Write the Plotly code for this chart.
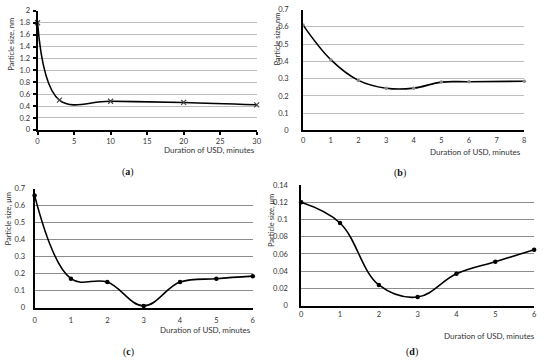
import plotly.graph_objects as go

W, H = 550, 364

# ---- data ----
a_x = [0, 3, 10, 20, 30]
a_y = [1.8, 0.5, 0.48, 0.46, 0.42]
b_x = [0, 1, 2, 3, 4, 5, 6, 8]
b_y = [0.61, 0.41, 0.29, 0.245, 0.245, 0.28, 0.282, 0.285]
c_x = [0, 1, 2, 3, 4, 5, 6]
c_y = [0.66, 0.17, 0.15, 0.01, 0.15, 0.17, 0.185]
d_x = [0, 1, 2, 3, 4, 5, 6]
d_y = [0.12, 0.096, 0.024, 0.01, 0.037, 0.051, 0.065]

a_yticks = [0, 0.2, 0.4, 0.6, 0.8, 1.0, 1.2, 1.4, 1.6, 1.8, 2]
a_ylabels = ["0", "0.2", "0.4", "0.6", "0.8", "1.0", "1.2", "1.4", "1.6", "1.8", "2"]
a_xticks = [0, 5, 10, 15, 20, 25, 30]
b_yticks = [0, 0.1, 0.2, 0.3, 0.4, 0.5, 0.6, 0.7]
b_xticks = [0, 1, 2, 3, 4, 5, 6, 7, 8]
c_yticks = [0, 0.1, 0.2, 0.3, 0.4, 0.5, 0.6, 0.7]
c_xticks = [0, 1, 2, 3, 4, 5, 6]
d_yticks = [0, 0.02, 0.04, 0.06, 0.08, 0.1, 0.12, 0.14]
d_xticks = [0, 1, 2, 3, 4, 5, 6]

xtitle = "Duration of USD, minutes"
FONT = "Lato"


def px(x):
    return x / W


def py(y):
    return 1 - y / H


fig = go.Figure()

panels = [
    dict(x=a_x, y=a_y, xd=(36, 258), yd=(7, 129), xr=[0, 30], yr=[0, 2],
         yt=a_yticks, yl=a_ylabels, xt=a_xticks,
         marker=dict(symbol="x-thin", size=5, color="#444", line=dict(width=1.2, color="#444")),
         ylab="Particle size, nm", ylabpos=(10, 41), xlabpos=(258, 150), tag="a", tagpos=(128, 172),
         grid="#bdbdbd", axw=2, xstand=0, ystand=1),
    dict(x=b_x, y=b_y, xd=(305, 529), yd=(5.7, 129.7), xr=[0, 8], yr=[0, 0.7],
         yt=b_yticks, yl=[str(v) for v in b_yticks], xt=b_xticks,
         marker=dict(symbol="circle", size=3.5, color="#888"),
         ylab="Particle size, nm", ylabpos=(279, 36), xlabpos=(528, 152), tag="b", tagpos=(403, 173),
         grid="#bdbdbd", axw=2, xstand=2, ystand=11),
    dict(x=c_x, y=c_y, xd=(33, 254), yd=(189.3, 311.3), xr=[0, 6], yr=[0, 0.7],
         yt=c_yticks, yl=[str(v) for v in c_yticks], xt=c_xticks,
         marker=dict(symbol="circle", size=4.5, color="#000"),
         ylab="Particle size, μm", ylabpos=(7, 220), xlabpos=(254, 334), tag="c", tagpos=(128, 357),
         grid="#8c8c8c", axw=2, xstand=4, ystand=6),
    dict(x=d_x, y=d_y, xd=(303, 539), yd=(185.7, 309.3), xr=[0, 6], yr=[0, 0.14],
         yt=d_yticks, yl=[str(v) for v in d_yticks], xt=d_xticks,
         marker=dict(symbol="circle", size=4.5, color="#000"),
         ylab="Particle size, μm", ylabpos=(273, 222), xlabpos=(542, 340), tag="d", tagpos=(415, 357),
         grid="#8c8c8c", axw=1.5, xstand=1, ystand=10),
]

annotations = []
for i, p in enumerate(panels):
    n = "" if i == 0 else str(i + 1)
    xa = "x" + n
    ya = "y" + n
    fig.add_trace(go.Scatter(
        x=p["x"], y=p["y"], mode="lines+markers",
        line=dict(color="black", width=1.6, shape="spline", smoothing=1.1),
        marker=p["marker"], xaxis=xa, yaxis=ya, showlegend=False,
        cliponaxis=False,
    ))
    fig.layout["xaxis" + n] = dict(
        domain=[px(p["xd"][0]), px(p["xd"][1])], range=p["xr"], anchor=ya,
        tickmode="array", tickvals=p["xt"], ticks="outside" if i == 0 else "",
        ticklen=3, tickcolor="black", tickwidth=1.5,
        showgrid=False, zeroline=False, showline=True, linecolor="black", linewidth=p["axw"],
        tickfont=dict(family=FONT, size=7.5, color="#333"), ticklabelstandoff=p["xstand"],
        fixedrange=True,
    )
    fig.layout["yaxis" + n] = dict(
        domain=[py(p["yd"][1]), py(p["yd"][0])], range=p["yr"], anchor=xa,
        tickmode="array", tickvals=p["yt"], ticktext=p["yl"],
        ticks="outside" if i == 0 else "", ticklen=3, tickcolor="black", tickwidth=1.5,
        showgrid=True, gridcolor=p["grid"], gridwidth=1, zeroline=False,
        showline=True, linecolor="black", linewidth=p["axw"],
        tickfont=dict(family=FONT, size=7.5, color="#333"), ticklabelstandoff=p["ystand"],
        fixedrange=True,
    )
    annotations.append(dict(
        text=xtitle, xref="paper", yref="paper",
        x=px(p["xlabpos"][0]), y=py(p["xlabpos"][1]), xanchor="right", yanchor="middle",
        showarrow=False, font=dict(family=FONT, size=8, color="#333"),
    ))
    annotations.append(dict(
        text=p["ylab"], xref="paper", yref="paper", textangle=-90,
        x=px(p["ylabpos"][0]), y=py(p["ylabpos"][1]), xanchor="center", yanchor="middle",
        showarrow=False, font=dict(family=FONT, size=7.5, color="#333"),
    ))
    annotations.append(dict(
        text="(<b>" + p["tag"] + "</b>)", xref="paper", yref="paper",
        x=px(p["tagpos"][0]), y=py(p["tagpos"][1]), xanchor="center", yanchor="middle",
        showarrow=False, font=dict(family="Liberation Serif", size=10, color="#111"),
    ))

fig.update_layout(
    width=W, height=H, margin=dict(l=0, r=0, t=0, b=0),
    paper_bgcolor="white", plot_bgcolor="white",
    annotations=annotations,
)

fig.write_html(
    "out.html",
    config={"displayModeBar": False},
    post_script="document.body.style.margin='0';document.body.style.overflow='hidden';",
)
